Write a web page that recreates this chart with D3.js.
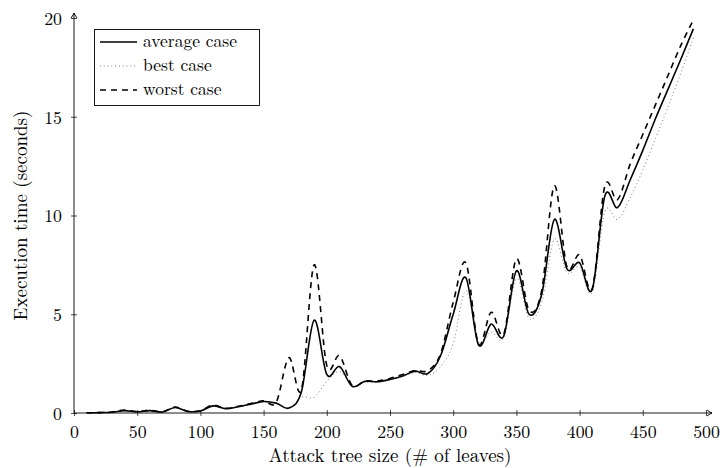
<!DOCTYPE html>
<html>
<head>
<meta charset="utf-8">
<script src="https://cdn.jsdelivr.net/npm/d3@7"></script>
<style>
    body { margin: 0; background: #fff; }
    svg { display: block; }
</style>
</head>
<body>
<div id="chart"></div>
<script>

//----------------------------
// Data
//----------------------------

var treeSizes = [10, 20, 30, 40, 50, 60, 70, 80, 90, 100,
    110, 120, 130, 140, 150, 160, 170, 180, 190, 200,
    210, 220, 230, 240, 250, 260, 270, 280, 290, 300,
    310, 320, 330, 340, 350, 360, 370, 380, 390, 400,
    410, 420, 430, 440, 450, 460, 470, 480, 490];

var averageCase = [0.01, 0.02, 0.04, 0.12, 0.06, 0.12, 0.05, 0.28, 0.08, 0.10,
    0.36, 0.22, 0.32, 0.45, 0.58, 0.50, 0.25, 1.10, 4.70, 1.95,
    2.35, 1.35, 1.60, 1.58, 1.70, 1.87, 2.12, 2.00, 2.90, 5.00,
    6.85, 3.45, 4.50, 3.90, 7.20, 5.00, 6.00, 9.80, 7.30, 7.60,
    6.25, 11.00, 10.40, 11.80, 13.30, 14.90, 16.40, 17.90, 19.45];

var bestCase = [0.01, 0.02, 0.04, 0.10, 0.05, 0.10, 0.05, 0.25, 0.07, 0.09,
    0.33, 0.20, 0.30, 0.42, 0.55, 0.48, 0.25, 0.80, 0.80, 1.60,
    2.10, 1.40, 1.55, 1.58, 1.70, 1.85, 2.05, 1.90, 2.35, 3.50,
    6.20, 3.60, 4.10, 3.80, 6.80, 4.80, 5.60, 8.80, 7.10, 7.40,
    6.10, 10.20, 9.80, 10.90, 12.30, 13.90, 15.50, 17.20, 19.00];

var worstCase = [0.01, 0.02, 0.05, 0.15, 0.07, 0.14, 0.06, 0.30, 0.09, 0.11,
    0.40, 0.24, 0.34, 0.48, 0.62, 0.55, 2.80, 1.20, 7.50, 2.40,
    2.90, 1.40, 1.62, 1.62, 1.75, 1.95, 2.15, 2.15, 3.00, 5.60,
    7.60, 3.50, 5.10, 4.00, 7.80, 5.20, 6.20, 11.50, 7.40, 8.00,
    6.30, 11.50, 10.80, 12.60, 14.10, 15.60, 17.10, 18.60, 19.90];

var xTicks = [0, 50, 100, 150, 200, 250, 300, 350, 400, 450, 500];
var yTicks = [0, 5, 10, 15, 20];

var seriesNames = ["average case", "best case", "worst case"];

//----------------------------
// Font: take the first serif face the browser really has
//----------------------------

function pickSerif() {
    var candidates = ["Latin Modern Roman", "CMU Serif", "Liberation Serif", "DejaVu Serif",
        "Times New Roman", "Tinos", "Noto Serif", "FreeSerif", "Nimbus Roman"];
    var ctx = document.createElement("canvas").getContext("2d");
    var sample = "Attack tree size (# of leaves) 0123456789";
    function width(f) { ctx.font = "60px " + f; return ctx.measureText(sample).width; }
    var mono = width("monospace"), sans = width("sans-serif");
    for (var i = 0; i < candidates.length; i++) {
        var c = '"' + candidates[i] + '"';
        if (width(c + ", monospace") !== mono || width(c + ", sans-serif") !== sans) {
            return c + ", serif";
        }
    }
    return "serif";
}

var fontFamily = pickSerif();

//----------------------------
// Setup
//----------------------------

var w = 723;
var h = 468;

var svg = d3
    .select("#chart")
    .append("svg")
    .attr("width", w)
    .attr("height", h)
    .style("font-family", fontFamily);

var x = d3
    .scaleLinear()
    .domain([0, 500])
    .range([74, 706]);

var y = d3
    .scaleLinear()
    .domain([0, 20])
    .range([413, 18]);

// line styles per series
var styles = [
    { width: 1.6, dash: null, color: "#000" },
    { width: 0.8, dash: "0.8 3", color: "#333" },
    { width: 1.6, dash: "6 5", color: "#000" }
];

var seriesData = [averageCase, bestCase, worstCase];

// scale font size so the text gets the width seen in the reference
function fitWidth(sel, target) {
    var len = sel.node().getComputedTextLength();
    var fs = +sel.attr("font-size");
    return fs * target / len;
}

//----------------------------
// Axes
//----------------------------

var xAxis = svg
    .append("g")
    .attr("transform", "translate(0," + y(0) + ")")
    .call(d3.axisBottom(x).tickValues(xTicks).tickSize(0));

xAxis.attr("font-family", null);
xAxis.select(".domain").remove();
xAxis.selectAll(".tick line")
    .attr("y1", -3)
    .attr("y2", 3)
    .attr("stroke", "#000")
    .attr("stroke-width", 0.7);
xAxis.selectAll(".tick text")
    .attr("font-size", 18)
    .attr("fill", "#000")
    .attr("y", 25)
    .attr("dy", 0);

var tickSize = fitWidth(xAxis.selectAll(".tick text").filter(function (d) { return d === 100; }), 26.7);
xAxis.selectAll(".tick text").attr("font-size", tickSize);

var yAxis = svg
    .append("g")
    .attr("transform", "translate(" + x(0) + ",0)")
    .call(d3.axisLeft(y).tickValues(yTicks).tickSize(0));

yAxis.attr("font-family", null);
yAxis.select(".domain").remove();
yAxis.selectAll(".tick line")
    .attr("x1", -3)
    .attr("x2", 3)
    .attr("stroke", "#000")
    .attr("stroke-width", 0.7);
yAxis.selectAll(".tick text")
    .attr("font-size", tickSize)
    .attr("fill", "#000")
    .attr("x", -12)
    .attr("dy", "0.36em");

// axis lines with arrow tips
var x0 = x(0), y0 = y(0);
var xEnd = x(500) + 6, yEnd = y(20) - 5;

svg.append("line")
    .attr("x1", x0).attr("y1", y0)
    .attr("x2", xEnd).attr("y2", y0)
    .attr("stroke", "#000").attr("stroke-width", 0.9);

svg.append("line")
    .attr("x1", x0).attr("y1", y0)
    .attr("x2", x0).attr("y2", yEnd)
    .attr("stroke", "#000").attr("stroke-width", 0.9);

svg.append("path")
    .attr("d", "M" + (xEnd - 5) + "," + (y0 - 3) + " Q" + (xEnd - 1.5) + "," + (y0 - 0.5) + " " + xEnd + "," + y0 +
        " Q" + (xEnd - 1.5) + "," + (y0 + 0.5) + " " + (xEnd - 5) + "," + (y0 + 3))
    .attr("fill", "none").attr("stroke", "#000").attr("stroke-width", 0.9);

svg.append("path")
    .attr("d", "M" + (x0 - 3) + "," + (yEnd + 5) + " Q" + (x0 - 0.5) + "," + (yEnd + 1.5) + " " + x0 + "," + yEnd +
        " Q" + (x0 + 0.5) + "," + (yEnd + 1.5) + " " + (x0 + 3) + "," + (yEnd + 5))
    .attr("fill", "none").attr("stroke", "#000").attr("stroke-width", 0.9);

// axis labels
var xLabel = svg.append("text")
    .attr("x", (x(0) + x(500)) / 2)
    .attr("y", 462)
    .attr("text-anchor", "middle")
    .attr("font-size", 18)
    .text("Attack tree size (# of leaves)");
xLabel.attr("font-size", Math.min(19, fitWidth(xLabel, 262)));

var yLabel = svg.append("text")
    .attr("transform", "translate(27," + ((y(0) + y(20)) / 2) + ") rotate(-90)")
    .attr("text-anchor", "middle")
    .attr("font-size", 18)
    .text("Execution time (seconds)");
yLabel.attr("font-size", Math.min(19, fitWidth(yLabel, 213)));

//----------------------------
// Draw lines
//----------------------------

var line = d3
    .line()
    .x(function (d) { return x(d[0]); })
    .y(function (d) { return y(d[1]); })
    .curve(d3.curveCardinal.tension(0));

seriesData.forEach(function (values, i) {
    var pts = treeSizes.map(function (s, j) { return [s, values[j]]; });
    svg.append("path")
        .datum(pts)
        .attr("d", line)
        .attr("fill", "none")
        .attr("stroke", styles[i].color)
        .attr("stroke-width", styles[i].width)
        .attr("stroke-dasharray", styles[i].dash);
});

//----------------------------
// Legend
//----------------------------

var legend = svg.append("g");

legend.append("rect")
    .attr("x", 94.5)
    .attr("y", 29.5)
    .attr("width", 165)
    .attr("height", 76)
    .attr("fill", "#fff")
    .attr("stroke", "#000")
    .attr("stroke-width", 0.9);

seriesNames.forEach(function (name, i) {
    var ly = 42 + i * 24;
    legend.append("line")
        .attr("x1", 100)
        .attr("x2", 137)
        .attr("y1", ly)
        .attr("y2", ly)
        .attr("stroke", styles[i].color)
        .attr("stroke-width", styles[i].width)
        .attr("stroke-dasharray", styles[i].dash);
    legend.append("text")
        .attr("class", "legend-label")
        .attr("x", 143)
        .attr("y", ly + 5)
        .attr("font-size", 18)
        .text(name);
});

var legendSize = Math.min(17.5, fitWidth(legend.select(".legend-label"), 105));
legend.selectAll(".legend-label").attr("font-size", legendSize);

</script>
</body>
</html>
